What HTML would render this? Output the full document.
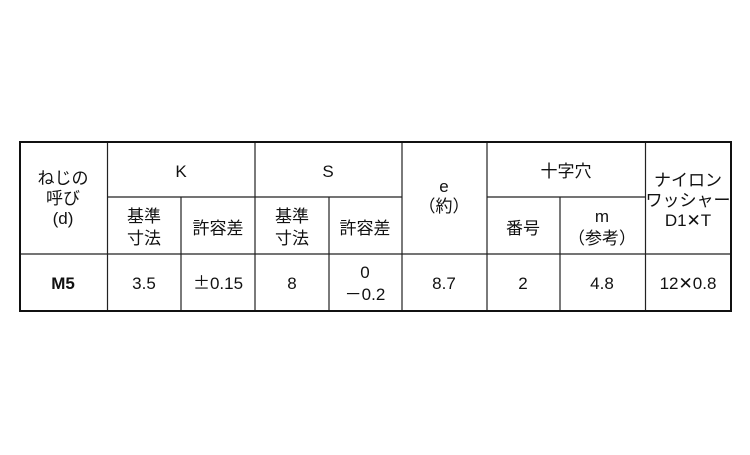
<!DOCTYPE html>
<html><head><meta charset="utf-8"><style>
body{margin:0;background:#fff;}
svg text{font-family:"Liberation Sans","Noto Sans CJK JP",sans-serif;font-size:17px;fill:#111;text-anchor:middle;}
.j{font-family:"Noto Sans CJK JP",sans-serif;}
</style></head><body>
<svg width="750" height="450" xmlns="http://www.w3.org/2000/svg">
<g stroke="#222" stroke-width="1.2">
<line x1="107.5" y1="142" x2="107.5" y2="311"/>
<line x1="181" y1="197" x2="181" y2="311"/>
<line x1="255" y1="142" x2="255" y2="311"/>
<line x1="329" y1="197" x2="329" y2="311"/>
<line x1="402" y1="142" x2="402" y2="311"/>
<line x1="487" y1="142" x2="487" y2="311"/>
<line x1="560" y1="197" x2="560" y2="311"/>
<line x1="645.5" y1="142" x2="645.5" y2="311"/>
<line x1="107.5" y1="197" x2="402" y2="197"/>
<line x1="487" y1="197" x2="645.5" y2="197"/>
<line x1="20" y1="254" x2="731" y2="254"/>
</g>
<rect x="20" y="142" width="711" height="169" fill="none" stroke="#111" stroke-width="2"/>
<text x="63" y="184">ねじの</text>
<text x="63" y="204">呼び</text>
<text x="63" y="224">(d)</text>
<text x="181" y="177">K</text>
<text x="328" y="177">S</text>
<text x="144" y="222">基準</text>
<text x="144" y="244">寸法</text>
<text x="218" y="234">許容差</text>
<text x="292" y="222">基準</text>
<text x="292" y="244">寸法</text>
<text x="365" y="234">許容差</text>
<text x="444" y="192">e</text>
<text x="444" y="212" class="j">（約）</text>
<text x="566" y="177">十字穴</text>
<text x="523" y="234">番号</text>
<text x="602" y="222">m</text>
<text x="602" y="244" class="j">（参考）</text>
<text x="688" y="186">ナイロン</text>
<text x="688" y="206">ワッシャー</text>
<text x="688" y="226">D1<tspan class="j">✕</tspan>T</text>
<text x="63" y="289" style="font-weight:bold">M5</text>
<text x="144" y="289">3.5</text>
<text x="218" y="289"><tspan class="j">±</tspan>0.15</text>
<text x="292" y="289">8</text>
<text x="365" y="278">0</text>
<text x="365" y="300"><tspan class="j">－</tspan>0.2</text>
<text x="444" y="289">8.7</text>
<text x="523" y="289">2</text>
<text x="602" y="289">4.8</text>
<text x="688" y="289">12<tspan class="j">✕</tspan>0.8</text>
</svg>
</body></html>
